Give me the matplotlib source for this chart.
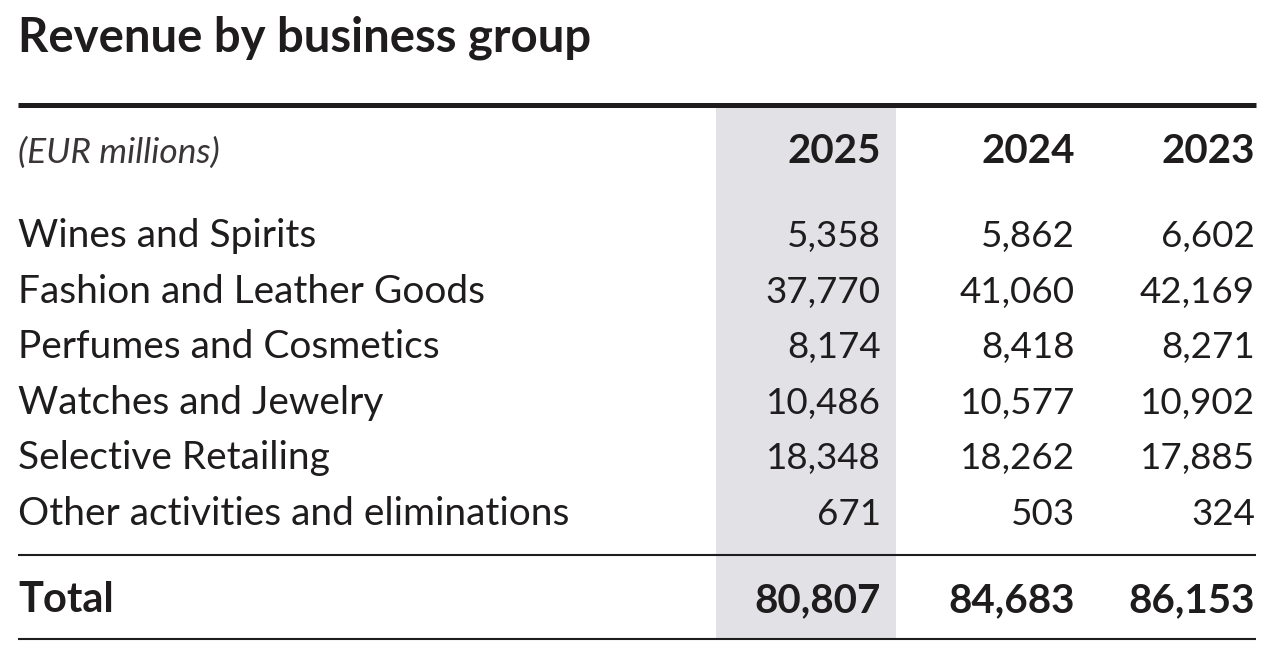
import matplotlib.pyplot as plt

# Table data
years = ["2025", "2024", "2023"]
groups = ["Wines and Spirits", "Fashion and Leather Goods", "Perfumes and Cosmetics",
          "Watches and Jewelry", "Selective Retailing", "Other activities and eliminations"]
rev_2025 = [5358, 37770, 8174, 10486, 18348, 671]
rev_2024 = [5862, 41060, 8418, 10577, 18262, 503]
rev_2023 = [6602, 42169, 8271, 10902, 17885, 324]
totals = [80807, 84683, 86153]

FONT = "Lato"
INK = "#1f1c1d"

W, H = 1285, 663
fig = plt.figure(figsize=(W / 100, H / 100), dpi=100)
ax = fig.add_axes([0, 0, 1, 1])
ax.set_xlim(0, W)
ax.set_ylim(H, 0)
ax.axis("off")

left, right = 18, 1256
col_right = [881, 1075, 1255]
header_base = 163
row_base0, row_step = 247, 55.6
total_base = 612

# shaded current-year column
ax.add_patch(plt.Rectangle((716, 106), 180, 532, color="#e2e1e6", lw=0, zorder=0))

ax.text(left, 52, "Revenue by business group", fontsize=34, fontweight="bold",
        family=FONT, color=INK, va="baseline", ha="left")

ax.plot([left, right], [104.5, 104.5], color=INK, lw=3.6, solid_capstyle="butt")
ax.plot([left, right], [555, 555], color=INK, lw=1.5, solid_capstyle="butt")
ax.plot([left, right], [638.5, 638.5], color=INK, lw=1.5, solid_capstyle="butt")

ax.text(left, header_base, "(EUR millions)", fontsize=25.5, fontstyle="italic", fontweight="normal",
        family=FONT, color="#3a3637", va="baseline", ha="left")
for x, yr in zip(col_right, years):
    ax.text(x, header_base, yr, fontsize=29, fontweight="bold", family=FONT, color=INK,
            va="baseline", ha="right")

for i, name in enumerate(groups):
    y = row_base0 + i * row_step
    ax.text(left, y, name, fontsize=28, family=FONT, color=INK, va="baseline", ha="left")
    for x, vals in zip(col_right, [rev_2025, rev_2024, rev_2023]):
        ax.text(x, y, f"{vals[i]:,}", fontsize=26.5, family=FONT, color=INK,
                va="baseline", ha="right")

ax.text(left, total_base, "Total", fontsize=30, fontweight="bold", family=FONT, color=INK,
        va="baseline", ha="left")
for x, v in zip(col_right, totals):
    ax.text(x, total_base, f"{v:,}", fontsize=29, fontweight="bold", family=FONT, color=INK,
            va="baseline", ha="right")

fig.savefig("out.png", dpi=100, facecolor="white")
